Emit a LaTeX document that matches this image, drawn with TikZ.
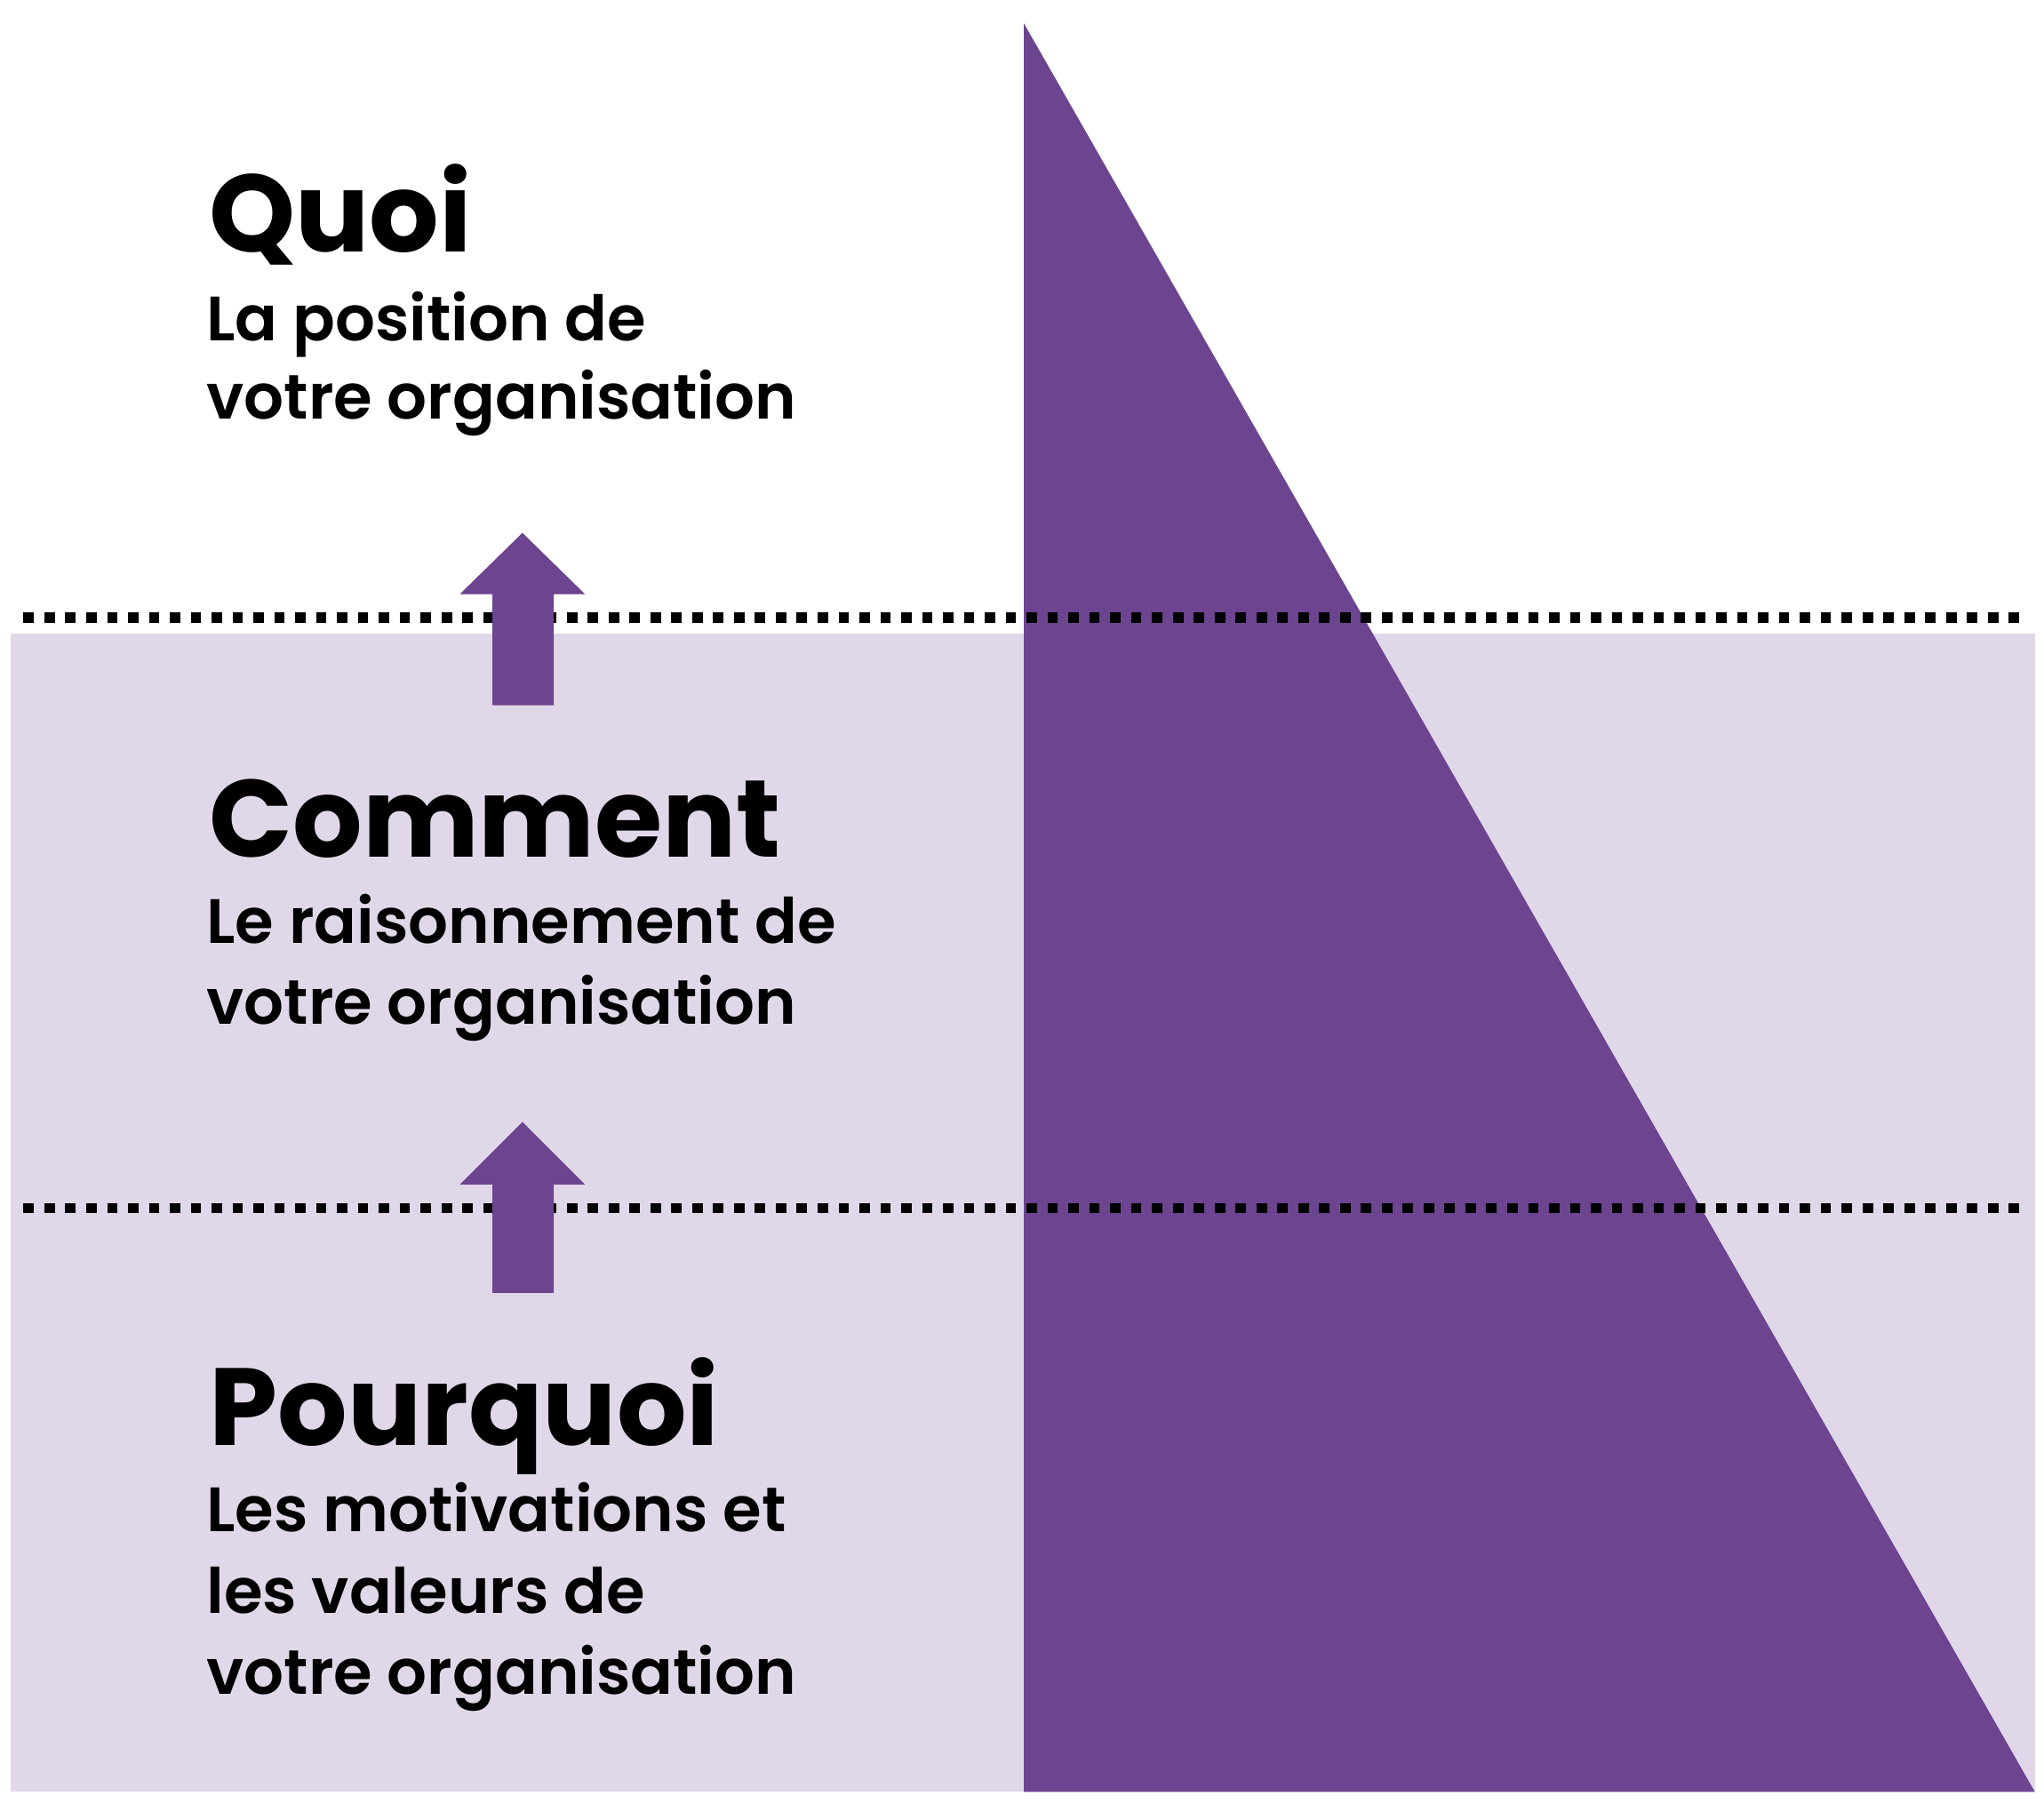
\documentclass[tikz,border=0pt]{standalone}
\usepackage{fontspec}
\setmainfont{Poppins}[UprightFont=* SemiBold,BoldFont=* Bold]
\definecolor{lav}{HTML}{E0D8E8}
\definecolor{purp}{HTML}{6C4490}
\begin{document}
\begin{tikzpicture}[x=1pt,y=-1pt,
  title/.style={anchor=base west,inner sep=0pt,font=\bfseries\fontsize{84}{84}\selectfont},
  sub/.style={anchor=base west,inner sep=0pt,font=\fontsize{48}{48}\selectfont},
  dots/.style={line width=8pt,dash pattern=on 8pt off 8pt,black},
  uparrow/.style={fill=purp}]
\useasboundingbox (0,0) rectangle (1565,1393);
\fill[lav] (8,485) rectangle (1558,1372);
\fill[purp] (784,18) -- (784,1372) -- (1558,1372) -- cycle;
\coordinate (d1a) at (18,473); \coordinate (d1b) at (1552,473);
\coordinate (d2a) at (18,925); \coordinate (d2b) at (1552,925);
\draw[dots] (d1a) -- (d1b);
\draw[dots] (d2a) -- (d2b);
\fill[uparrow] (377,540) -- (377,455) -- (352,455) -- (400,408) -- (448,455) -- (424,455) -- (424,540) -- cycle;
\fill[uparrow] (377,990) -- (377,907) -- (352,907) -- (400,859) -- (448,907) -- (424,907) -- (424,990) -- cycle;
\node[title] (q) at (160,193) {Quoi};
\node[sub] (q1) at (158,261) {La position de};
\node[sub] (q2) at (158,321) {votre organisation};
\node[title] (c) at (160,656) {Comment};
\node[sub] (c1) at (158,722) {Le raisonnement de};
\node[sub] (c2) at (158,784) {votre organisation};
\node[title] (p) at (160,1107) {Pourquoi};
\node[sub] (p1) at (158,1173) {Les motivations et};
\node[sub] (p2) at (158,1235) {les valeurs de};
\node[sub] (p3) at (158,1297) {votre organisation};
\end{tikzpicture}
\end{document}
